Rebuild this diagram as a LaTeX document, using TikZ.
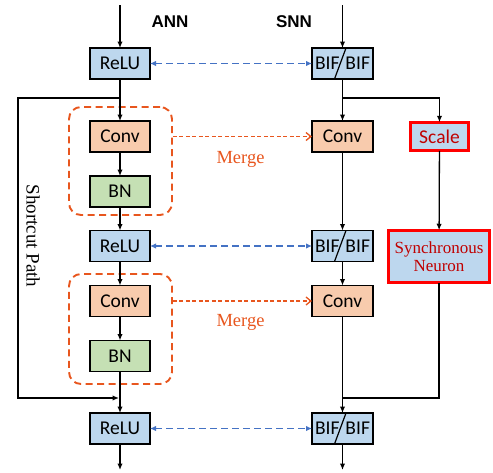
\documentclass[tikz,border=0pt]{standalone}
\usepackage{fontspec}
\setmainfont{Liberation Serif}
\newfontfamily\boxfont{Carlito}
\newfontfamily\headfont{Liberation Sans}
\usetikzlibrary{arrows.meta,calc}

\definecolor{cellblue}{HTML}{BDD7EE}
\definecolor{convfill}{HTML}{F8CBAD}
\definecolor{bnfill}{HTML}{C5E0B4}
\definecolor{mergeorange}{RGB}{232,86,30}
\definecolor{linkblue}{HTML}{4472C4}
\definecolor{darkred}{HTML}{C00000}

\tikzset{
  blk/.style={draw=black, line width=1.4pt, minimum width=60pt, minimum height=31pt,
    inner sep=0pt, outer sep=0pt, font=\boxfont\fontsize{19.5}{20}\selectfont},
  relu/.style={blk, fill=cellblue},
  bif/.style={blk, fill=cellblue, minimum width=61pt},
  conv/.style={blk, fill=convfill},
  bn/.style={blk, fill=bnfill},
  redbox/.style={draw=red, line width=2.6pt, fill=cellblue, inner sep=0pt, outer sep=0pt,
    text=darkred},
  flow/.style={line width=1.3pt, -{Latex[length=6.5pt,width=5.5pt]}},
  plain/.style={line width=1.3pt},
  twin/.style={linkblue, line width=1.3pt, dash pattern=on 7pt off 4pt,
    {Latex[length=6pt,width=5.5pt]}-{Latex[length=6pt,width=5.5pt]}},
  group/.style={draw=mergeorange, line width=1.9pt, dash pattern=on 7pt off 4.5pt,
    rounded corners=12pt},
  fuse/.style={mergeorange, line width=1.3pt, dash pattern=on 4pt off 2.5pt,
    -{Straight Barb[length=5pt,width=8pt]}},
  mergelbl/.style={text=mergeorange, font=\fontsize{18.5}{20}\selectfont, inner sep=0pt},
  head/.style={font=\headfont\bfseries\fontsize{17}{18}\selectfont, inner sep=0pt}
}

\begin{document}
\begin{tikzpicture}[x=1pt,y=-1pt]
\useasboundingbox (0,0) rectangle (493,472);

% headings
\node[head] (ann) at (170,22) {ANN};
\node[head] (snn) at (294,22) {SNN};

% merge groups (drawn first, behind the blocks)
\node[group, minimum width=103pt, minimum height=108pt, inner sep=0pt] (g1) at (120.5,161) {};
\node[group, minimum width=103pt, minimum height=110pt, inner sep=0pt] (g2) at (120.5,329) {};

% ANN column
\node[relu] (r1) at (120,63.5) {ReLU};
\node[conv] (c1) at (120,136.5) {Conv};
\node[bn]   (b1) at (120,191.5) {BN};
\node[relu] (r2) at (120,246) {ReLU};
\node[conv] (c2) at (120,301) {Conv};
\node[bn]   (b2) at (120,356) {BN};
\node[relu] (r3) at (120,428.5) {ReLU};

% SNN column
\node[bif]  (s1) at (342.5,63.5) {BIF\hspace{6pt}BIF};
\node[conv, minimum width=61pt] (sc1) at (342.5,136.5) {Conv};
\node[bif]  (s2) at (342.5,246) {BIF\hspace{6pt}BIF};
\node[conv, minimum width=61pt] (sc2) at (342.5,301) {Conv};
\node[bif]  (s3) at (342.5,428.5) {BIF\hspace{6pt}BIF};
\foreach \b in {s1,s2,s3}
  \draw[line width=1.2pt] ($(\b.south)+(-8,0)$) -- ($(\b.north)+(3.5,0)$);

% side branch
\node[redbox, minimum width=58.5pt, minimum height=28.5pt,
  font=\boxfont\fontsize{19.5}{20}\selectfont] (sc) at (439.5,136.5) {Scale};
\node[redbox, minimum width=101.5pt, minimum height=52.5pt, align=center,
  font=\fontsize{17}{17.5}\selectfont] (sn) at (439,256.5) {Synchronous\\Neuron};

% free ends
\coordinate (annin)  at (120,5);
\coordinate (annout) at (120,470);
\coordinate (snnin)  at (342.5,5);
\coordinate (snnout) at (342.5,470);
\coordinate (split)  at (120,98);
\coordinate (join)   at (120,398);
\coordinate (ssplit) at (342.5,98);
\coordinate (sjoin)  at (342.5,398);

% ANN connectors
\draw[flow] (annin) -- (r1);
\draw[flow] (r1) -- (c1);
\draw[flow] (c1) -- (b1);
\draw[flow] (b1) -- (r2);
\draw[flow] (r2) -- (c2);
\draw[flow] (c2) -- (b2);
\draw[flow] (b2) -- (r3);
\draw[flow] (r3) -- (annout);

% shortcut path
\draw[flow] (split) -- (18,98) -- (18,398) -- ($(join)+(-1,0)$);
\node[rotate=-90, inner sep=0pt, font=\fontsize{19}{20}\selectfont] (sp) at (33,236) {Shortcut Path};

% SNN connectors
\draw[flow] (snnin) -- (s1);
\draw[flow] (s1) -- (sc1);
\draw[flow] (ssplit) -| (sc);
\draw[flow] (sc) -- (sn);
\draw[flow] (sc1) -- (s2);
\draw[flow] (s2) -- (sc2);
\draw[flow] (sc2) -- (s3);
\draw[plain] (sn.south) |- (sjoin);
\draw[flow] (s3) -- (snnout);

% ANN <-> SNN correspondence
\draw[twin] (r1) -- (s1);
\draw[twin] (r2) -- (s2);
\draw[twin] (r3) -- (s3);

% merge arrows
\draw[fuse] (g1.east |- c1) -- (sc1);
\draw[fuse] (g2.east |- c2) -- (sc2);
\node[mergelbl, anchor=base] (m1) at (240.5,163) {Merge};
\node[mergelbl, anchor=base] (m2) at (240.5,326) {Merge};
\end{tikzpicture}
\end{document}
